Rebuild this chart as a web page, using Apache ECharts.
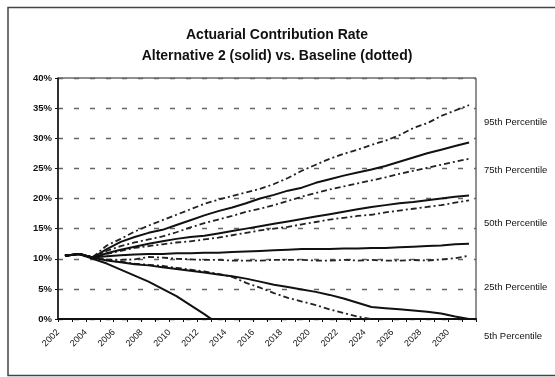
<!DOCTYPE html>
<html>
<head>
<meta charset="utf-8">
<script src="https://cdn.jsdelivr.net/npm/echarts@6/dist/echarts.min.js"></script>
<style>
  html, body { margin: 0; padding: 0; background: #ffffff; }
  #chart { width: 555px; height: 377px; }
</style>
</head>
<body>
<div id="chart"></div>
<script>
// Projection years (one category per year)
const years = ['2002','2003','2004','2005','2006','2007','2008','2009','2010','2011',
               '2012','2013','2014','2015','2016','2017','2018','2019','2020','2021',
               '2022','2023','2024','2025','2026','2027','2028','2029','2030','2031'];

// Year boundaries used for the axis labels
const yearMarks = ['2002','2003','2004','2005','2006','2007','2008','2009','2010','2011',
                   '2012','2013','2014','2015','2016','2017','2018','2019','2020','2021',
                   '2022','2023','2024','2025','2026','2027','2028','2029','2030','2031','2032'];
const tickLabels = ['2002','2004','2006','2008','2010','2012','2014','2016',
                    '2018','2020','2022','2024','2026','2028','2030'];

// Contribution rate (% of payroll), Alternative 2
const alt2P95 = [10.5,10.8,10.2,11.6,12.8,13.6,14.3,14.8,15.6,16.4,17.2,17.9,18.5,19.2,20.0,
                 20.6,21.3,21.8,22.6,23.2,23.8,24.3,24.8,25.4,26.1,26.8,27.5,28.1,28.7,29.3];
const alt2P75 = [10.5,10.8,10.2,10.9,11.5,12.0,12.5,12.9,13.3,13.6,13.8,14.2,14.6,15.0,15.4,
                 15.8,16.2,16.6,17.0,17.4,17.8,18.2,18.6,18.9,19.2,19.4,19.7,20.0,20.3,20.5];
const alt2P50 = [10.5,10.8,10.2,10.4,10.6,10.7,10.8,10.8,10.9,10.9,11.0,11.0,11.1,11.2,11.3,
                 11.4,11.5,11.6,11.6,11.6,11.7,11.7,11.8,11.8,11.9,12.0,12.1,12.2,12.4,12.5];
const alt2P25 = [10.5,10.8,10.2,9.7,9.4,9.1,8.9,8.6,8.3,8.0,7.7,7.4,7.1,6.7,6.2,
                 5.7,5.3,4.9,4.5,4.0,3.4,2.7,2.0,1.8,1.6,1.4,1.2,0.9,0.4,0.0];
const alt2P5  = [10.5,10.8,10.0,9.2,8.2,7.2,6.2,5.0,3.8,2.3,0.8,-0.8];

// Contribution rate (% of payroll), Baseline
const baseP95 = [10.5,10.8,10.3,12.2,13.3,14.5,15.5,16.4,17.3,18.2,19.1,19.8,20.4,21.0,21.6,
                 22.4,23.4,24.6,25.6,26.6,27.4,28.1,28.9,29.6,30.5,31.7,32.5,33.7,34.6,35.5];
const baseP75 = [10.5,10.8,10.3,11.3,12.1,12.7,13.2,13.7,14.4,15.2,15.9,16.5,17.1,17.8,18.3,
                 18.9,19.6,20.3,20.9,21.5,22.0,22.5,23.0,23.5,24.1,24.6,25.1,25.6,26.1,26.6];
const baseP50 = [10.5,10.8,10.3,10.8,11.3,11.8,12.1,12.4,12.7,12.9,13.2,13.5,13.9,14.3,14.7,
                 15.0,15.3,15.7,16.1,16.5,16.8,17.1,17.3,17.7,18.0,18.3,18.6,18.9,19.3,19.7];
const baseP25 = [10.5,10.8,10.2,9.9,9.8,9.9,10.3,10.2,10.0,9.9,9.8,9.8,9.7,9.7,9.7,
                 9.8,9.8,9.8,9.7,9.7,9.8,9.7,9.8,9.7,9.7,9.8,9.7,9.9,10.1,10.5];
const baseP5  = [10.5,10.8,10.3,9.8,9.5,9.2,9.0,8.8,8.5,8.2,7.9,7.5,7.0,6.0,5.2,
                 4.3,3.5,2.9,2.3,1.6,1.0,0.4,0.0];

const percentileNames = ['95th Percentile','75th Percentile','50th Percentile','25th Percentile','5th Percentile'];

const FONT = '"Liberation Sans", Arial, sans-serif';
const solidStyle = { color: '#111', width: 2, type: 'solid' };
const dottedStyle = { color: '#222', width: 1.8, type: [6, 3, 2, 3] };

function line(name, data, style) {
  return {
    name, type: 'line', data, symbol: 'none', clip: true,
    lineStyle: style, z: style === solidStyle ? 3 : 2, silent: true
  };
}

const chart = echarts.init(document.getElementById('chart'), null, { renderer: 'canvas' });

const labelTops = [122, 170, 223.5, 287.5, 336.5];

chart.setOption({
  backgroundColor: '#ffffff',
  animation: false,
  title: {
    text: 'Actuarial Contribution Rate\nAlternative 2 (solid) vs. Baseline (dotted)',
    left: 272, top: 20, textAlign: 'center',
    textStyle: { fontFamily: FONT, fontSize: 14, fontWeight: 'bold', color: '#111', lineHeight: 21 }
  },
  grid: {
    left: 58, right: 79, top: 78, bottom: 58,
    show: true, borderColor: '#222', borderWidth: 1, backgroundColor: 'transparent'
  },
  xAxis: [
    {
      type: 'category', data: years, boundaryGap: true, position: 'bottom',
      axisLine: { lineStyle: { color: '#111', width: 2 } },
      axisTick: { show: true, interval: 0, length: 3, lineStyle: { color: '#111', width: 1 } },
      axisLabel: { show: false },
      splitLine: { show: false }
    },
    {
      type: 'category', data: yearMarks, boundaryGap: false, position: 'bottom',
      axisLine: { show: false }, axisTick: { show: false }, splitLine: { show: false },
      axisLabel: {
        interval: (idx, val) => tickLabels.includes(val),
        rotate: 45, margin: 12,
        fontFamily: FONT, fontSize: 9, color: '#111'
      }
    }
  ],
  yAxis: {
    type: 'value', min: 0, max: 40, interval: 5,
    axisLine: { show: true, lineStyle: { color: '#111', width: 1.5 } },
    axisTick: { show: true, length: 3, lineStyle: { color: '#111' } },
    axisLabel: {
      formatter: '{value}%', margin: 6,
      fontFamily: FONT, fontSize: 9.5, fontWeight: 'bold', color: '#111'
    },
    splitLine: { show: true, lineStyle: { color: '#666', width: 1.3, type: [5, 11] } }
  },
  series: [
    line('Baseline 95th', baseP95, dottedStyle),
    line('Baseline 75th', baseP75, dottedStyle),
    line('Baseline 50th', baseP50, dottedStyle),
    line('Baseline 25th', baseP25, dottedStyle),
    line('Baseline 5th', baseP5, dottedStyle),
    line('Alternative 2 95th', alt2P95, solidStyle),
    line('Alternative 2 75th', alt2P75, solidStyle),
    line('Alternative 2 50th', alt2P50, solidStyle),
    line('Alternative 2 25th', alt2P25, solidStyle),
    line('Alternative 2 5th', alt2P5, solidStyle)
  ],
  graphic: [
    {
      type: 'rect', silent: true, z: 10,
      shape: { x: 8, y: 7.5, width: 580, height: 368 },
      style: { fill: 'none', stroke: '#444', lineWidth: 1.5 }
    }
  ].concat(percentileNames.map((t, i) => ({
    type: 'text', silent: true,
    left: 484, top: labelTops[i] - 5,
    style: { text: t, fontFamily: FONT, fontSize: 9.5, fill: '#111' }
  })))
});
</script>
</body>
</html>
